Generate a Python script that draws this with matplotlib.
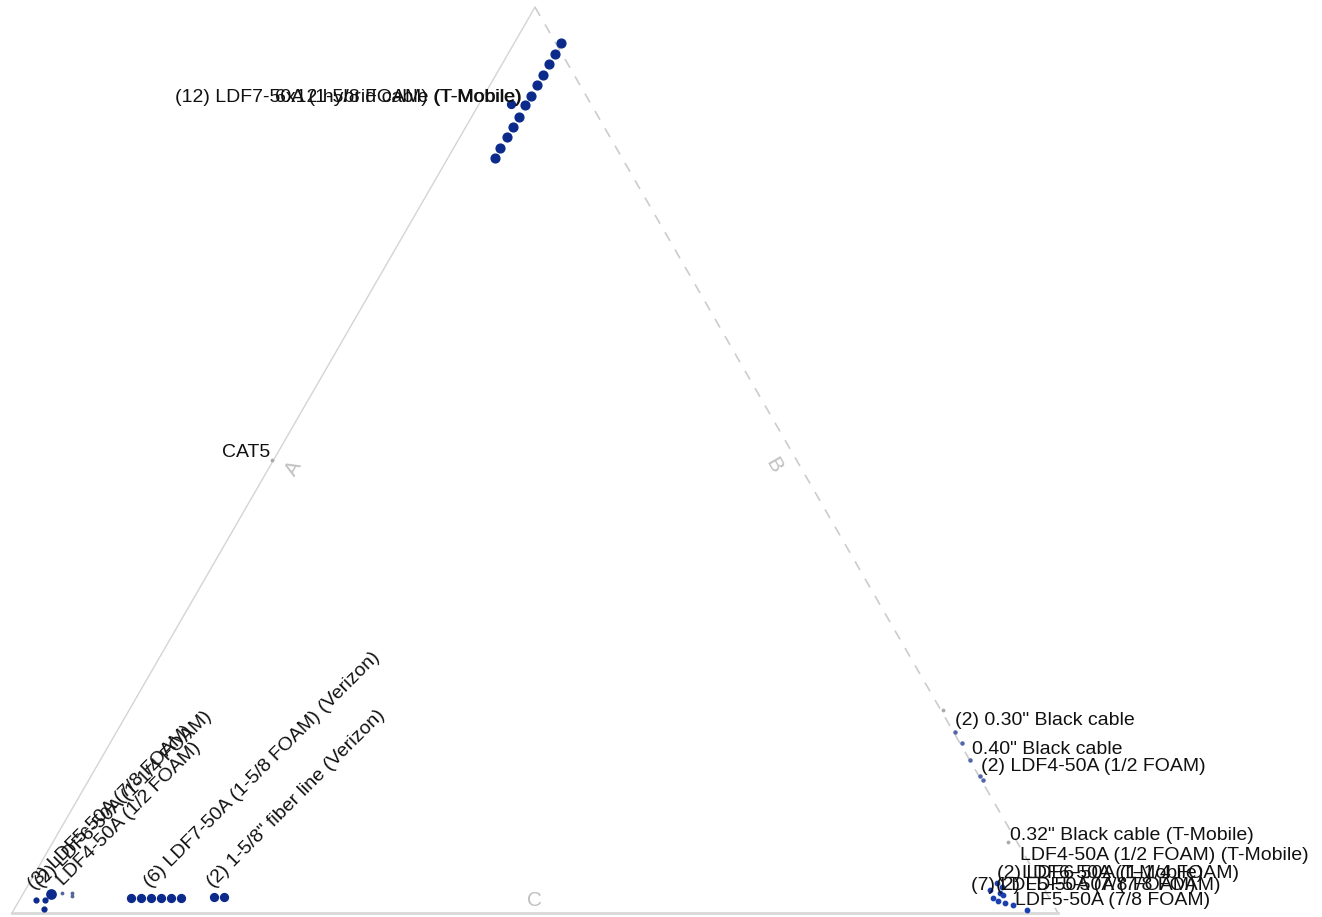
import numpy as np
import matplotlib
matplotlib.use("Agg")
import matplotlib.pyplot as plt

plt.rcParams['font.family'] = ['Liberation Sans', 'DejaVu Sans']

# Triangle (unit side) vertices: bottom-left, bottom-right, top
H = np.sqrt(3) / 2
tri_x = [0.0, 1.0, 0.5]
tri_y = [0.0, 0.0, H]

# Main cable points (x, y in triangle units)
top_x = [0.525, 0.519, 0.513, 0.508, 0.502, 0.496, 0.490, 0.485, 0.479, 0.473, 0.467, 0.462]
top_y = [0.832, 0.821, 0.812, 0.801, 0.792, 0.781, 0.772, 0.761, 0.751, 0.742, 0.731, 0.722]
hyb_x = [0.477]
hyb_y = [0.773]
row6_x = [0.114, 0.123, 0.133, 0.142, 0.152, 0.162]
row6_y = [0.0143] * 6
fib_x = [0.193, 0.203]
fib_y = [0.0153, 0.0153]
bl_x = [0.023, 0.032, 0.031]
bl_y = [0.012, 0.012, 0.004]
bl_big_x = [0.037]
bl_big_y = [0.018]
bl_small_x = [0.048, 0.057, 0.057]
bl_small_y = [0.019, 0.019, 0.016]
br_x = [0.942, 0.946, 0.945, 0.938, 0.943, 0.949, 0.957, 0.970, 0.935, 0.947]
br_y = [0.029, 0.025, 0.019, 0.014, 0.011, 0.010, 0.008, 0.003, 0.022, 0.017]
edge_x = [0.902, 0.908, 0.916, 0.925, 0.928]
edge_y = [0.173, 0.163, 0.146, 0.131, 0.127]
faint_x = [0.890, 0.249, 0.952]
faint_y = [0.194, 0.433, 0.068]

# Labels
h_labels = [
    ("(12) LDF7-50A (1-5/8 FOAM) (T-Mobile)", 0.487, 0.780, 'right'),
    ("6x12 hybrid cable (T-Mobile)", 0.487, 0.780, 'right'),
    ("CAT5", 0.247, 0.440, 'right'),
    ("(2) 0.30\" Black cable", 0.902, 0.184, 'left'),
    ("0.40\" Black cable", 0.918, 0.156, 'left'),
    ("(2) LDF4-50A (1/2 FOAM)", 0.926, 0.140, 'left'),
    ("0.32\" Black cable (T-Mobile)", 0.954, 0.074, 'left'),
    ("LDF4-50A (1/2 FOAM) (T-Mobile)", 0.964, 0.055, 'left'),
    ("(2) LDF6-50A (1-1/4 FOAM)", 0.942, 0.038, 'left'),
    ("LDF6-50A (T-Mobile)", 0.966, 0.038, 'left'),
    ("(7) LDF5-50A (7/8 FOAM)", 0.917, 0.026, 'left'),
    ("(2) LDF5-50A (7/8 FOAM)", 0.941, 0.026, 'left'),
    ("LDF5-50A (7/8 FOAM)", 0.959, 0.012, 'left'),
]
r_labels = [
    ("(3) LDF5-50A (7/8 FOAM)", 0.021, 0.022),
    ("(2) LDF6-50A (1-1/4 FOAM)", 0.028, 0.024),
    ("LDF4-50A (1/2 FOAM)", 0.049, 0.026),
    ("(6) LDF7-50A (1-5/8 FOAM) (Verizon)", 0.132, 0.024),
    ("(2) 1-5/8\" fiber line (Verizon)", 0.192, 0.024),
]
axis_titles = [("A", 0.269, 0.425, 60), ("B", 0.728, 0.428, -60), ("C", 0.500, 0.012, 0)]

fig = plt.figure(figsize=(13.22, 9.17), dpi=100)
ax = fig.add_axes([0, 0, 1, 1])
ax.set_xlim(-12 / 1046, 1310 / 1046)
ax.set_ylim(-4 / 1046, 913 / 1046)
ax.axis('off')

# edges
ax.plot([tri_x[0], tri_x[2]], [tri_y[0], tri_y[2]], color='#d4d4d4', lw=1.0)
ax.plot([tri_x[2], tri_x[1]], [tri_y[2], tri_y[1]], color='#cccccc', lw=1.2, ls=(0, (6, 6)))
ax.plot([tri_x[0], tri_x[1]], [tri_y[0], tri_y[1]], color='#d8d8d8', lw=2.0)

navy = '#0b2a8c'
ax.scatter(top_x, top_y, s=40, color=navy, zorder=3)
ax.scatter(hyb_x, hyb_y, s=32, color=navy, zorder=3)
ax.scatter(row6_x, row6_y, s=32, color=navy, zorder=3)
ax.scatter(fib_x, fib_y, s=32, color=navy, zorder=3)
ax.scatter(bl_x, bl_y, s=12, color=navy, zorder=3)
ax.scatter(bl_big_x, bl_big_y, s=45, color=navy, zorder=3)
ax.scatter(bl_small_x, bl_small_y, s=3, color='#556699', zorder=3)
ax.scatter(br_x, br_y, s=10, color='#1a3fb0', zorder=3)
ax.scatter(edge_x, edge_y, s=5, color='#5566aa', zorder=3)
ax.scatter(faint_x, faint_y, s=3, color='#aaaaaa', zorder=3)

fs = 14
for txt, x, y, ha in h_labels:
    ax.text(x, y, txt, ha=ha, va='center', fontsize=fs, color='#111111', zorder=4)
for txt, x, y in r_labels:
    ax.text(x, y, txt, ha='left', va='baseline', rotation=45, rotation_mode='anchor',
            fontsize=fs, color='#111111', zorder=4)
for txt, x, y, rot in axis_titles:
    ax.text(x, y, txt, ha='center', va='center', rotation=rot, fontsize=15, color='#c0c0c0')

fig.savefig('out.png', dpi=100)
